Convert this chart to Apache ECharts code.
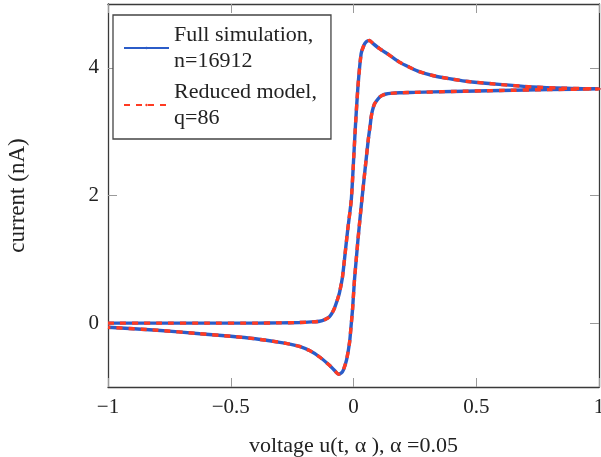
<!DOCTYPE html>
<html>
<head>
<meta charset="utf-8">
<script src="https://cdn.jsdelivr.net/npm/echarts@6/dist/echarts.min.js"></script>
<style>html,body{margin:0;padding:0;background:#fff;}#chart{width:601px;height:457px;}</style>
</head>
<body>
<div id="chart"></div>
<script>
// Forward scan (voltage increasing)
var forwardVoltage = [-1, -0.8, -0.6, -0.4, -0.3, -0.22, -0.17, -0.138, -0.115, -0.098, -0.087, -0.077, -0.067, -0.057, -0.045, -0.037, -0.024, -0.009, 0.001, 0.008, 0.018, 0.031, 0.042, 0.052, 0.065, 0.08, 0.106, 0.146, 0.187, 0.228, 0.268, 0.322, 0.39, 0.458, 0.593, 0.729, 0.865, 1];
var forwardCurrent = [0.0, 0.0, 0.0, 0.0, 0.005, 0.01, 0.02, 0.03, 0.06, 0.10, 0.16, 0.24, 0.35, 0.48, 0.72, 0.99, 1.45, 1.93, 2.6, 3.1, 3.70, 4.22, 4.35, 4.41, 4.43, 4.38, 4.30, 4.20, 4.09, 4.01, 3.94, 3.88, 3.83, 3.79, 3.74, 3.70, 3.68, 3.67];
// Reverse scan (voltage decreasing)
var reverseVoltage = [1, 0.8, 0.6, 0.4, 0.25, 0.187, 0.15, 0.133, 0.118, 0.106, 0.095, 0.085, 0.077, 0.072, 0.068, 0.06, 0.034, 0.018, 0.011, 0.004, -0.004, -0.010, -0.016, -0.028, -0.041, -0.05, -0.061, -0.075, -0.098, -0.138, -0.179, -0.22, -0.25, -0.3, -0.4, -0.5, -0.626, -0.8, -1];
var reverseCurrent = [3.67, 3.66, 3.645, 3.63, 3.615, 3.61, 3.60, 3.59, 3.57, 3.54, 3.49, 3.43, 3.33, 3.23, 3.1, 2.87, 1.93, 1.3, 0.99, 0.68, 0.21, -0.05, -0.30, -0.57, -0.73, -0.78, -0.80, -0.75, -0.66, -0.53, -0.43, -0.365, -0.335, -0.30, -0.245, -0.205, -0.165, -0.11, -0.065];

var seriesNames = ['Full simulation,\nn=16912', 'Reduced model,\nq=86'];
var xTicks = [-1, -0.5, 0, 0.5, 1];
var yTicks = [0, 2, 4];
var xTitle = 'voltage u(t, \u03b1 ), \u03b1 =0.05';
var yTitle = 'current (nA)';

function loop(vx, vy, rx, ry) {
  var d = [];
  for (var i = 0; i < vx.length; i++) d.push([vx[i], vy[i]]);
  for (var j = 0; j < rx.length; j++) d.push([rx[j], ry[j]]);
  return d;
}
var fullData = loop(forwardVoltage, forwardCurrent, reverseVoltage, reverseCurrent);
var reducedData = loop(forwardVoltage, forwardCurrent, reverseVoltage, reverseCurrent);

var FONT = 'Liberation Serif';
function fmt(v) { return String(v).replace('-', '\u2212'); }

var chart = echarts.init(document.getElementById('chart'), null, {renderer: 'canvas'});
var tickStyle = {show: true, inside: true, length: 9, lineStyle: {color: '#9a9a9a', width: 1}};
var lineAxis = {show: true, onZero: false, lineStyle: {color: '#3a3a3a', width: 1.3}};
chart.setOption({
  animation: false,
  backgroundColor: '#ffffff',
  grid: {left: 108, right: 2, top: 4, bottom: 70, containLabel: false, outerBoundsMode: 'none'},
  legend: {
    data: seriesNames,
    orient: 'vertical',
    left: 113, top: 15,
    padding: [7, 14, 8, 10],
    itemGap: 5,
    itemWidth: 45, itemHeight: 3,
    borderColor: '#444', borderWidth: 1.3,
    backgroundColor: '#fff',
    textStyle: {fontFamily: FONT, fontSize: 22, lineHeight: 26, color: '#222'}
  },
  xAxis: [{
    type: 'value', min: -1, max: 1, position: 'bottom',
    name: xTitle, nameLocation: 'middle', nameGap: 48,
    nameTextStyle: {fontFamily: FONT, fontSize: 22, color: '#222'},
    axisLine: lineAxis,
    axisTick: Object.assign({customValues: xTicks}, tickStyle),
    axisLabel: {customValues: xTicks, formatter: fmt, fontFamily: FONT, fontSize: 21, color: '#222', margin: 10},
    splitLine: {show: false}
  }, {
    type: 'value', min: -1, max: 1, position: 'top',
    axisLine: lineAxis,
    axisTick: Object.assign({customValues: xTicks}, tickStyle),
    axisLabel: {show: false},
    splitLine: {show: false}
  }],
  yAxis: [{
    type: 'value', min: -1, max: 5, position: 'left',
    name: yTitle, nameLocation: 'middle', nameGap: 79, nameRotate: 90,
    nameTextStyle: {fontFamily: FONT, fontSize: 23, color: '#222'},
    axisLine: lineAxis,
    axisTick: Object.assign({customValues: yTicks}, tickStyle),
    axisLabel: {customValues: yTicks, formatter: fmt, fontFamily: FONT, fontSize: 21, color: '#222', margin: 9},
    splitLine: {show: false}
  }, {
    type: 'value', min: -1, max: 5, position: 'right',
    axisLine: lineAxis,
    axisTick: Object.assign({customValues: yTicks}, tickStyle),
    axisLabel: {show: false},
    splitLine: {show: false}
  }],
  series: [{
    name: seriesNames[0], type: 'line', data: fullData,
    xAxisIndex: 0, yAxisIndex: 0,
    symbol: 'none', smooth: 0.2, z: 2,
    legendIcon: 'path://M0,0h45v3h-45z',
    color: '#2b5cc8',
    lineStyle: {color: '#2b5cc8', width: 3.4, type: 'solid'}
  }, {
    name: seriesNames[1], type: 'line', data: reducedData,
    xAxisIndex: 0, yAxisIndex: 0,
    symbol: 'none', smooth: 0.2, z: 3,
    legendIcon: 'path://M0,0h7v3h-7zM15,0h7v3h-7zM30,0h7v3h-7zM44,0h1v3h-1z',
    color: '#ff3b22',
    lineStyle: {color: '#ff3b22', width: 3.4, type: [6, 6]}
  }]
});
</script>
</body>
</html>
